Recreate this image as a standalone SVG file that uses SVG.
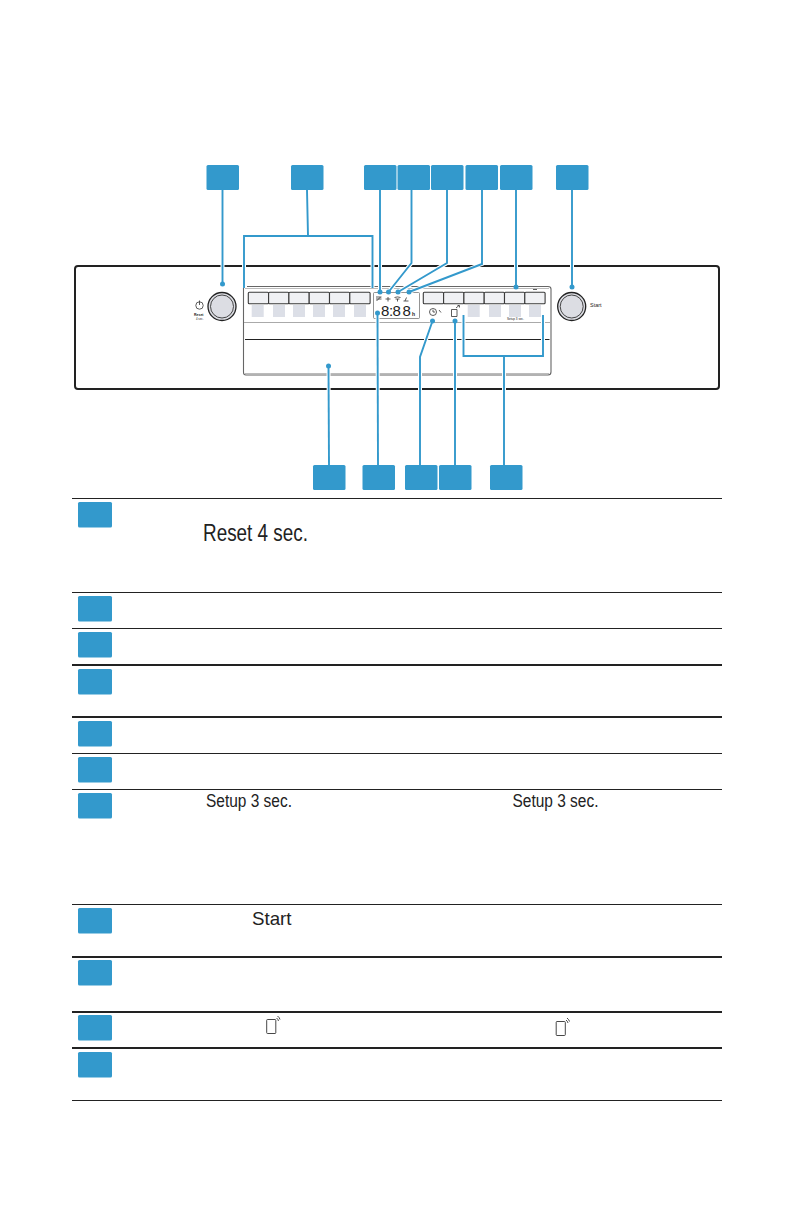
<svg xmlns="http://www.w3.org/2000/svg" xmlns:xlink="http://www.w3.org/1999/xlink" width="795" height="1226" viewBox="0 0 795 1226">
<style>
.badge{fill:#3399cc}
.conn{fill:none;stroke:#3399cc;stroke-width:1.900}
.halo{fill:none;stroke:#fff;stroke-width:4}
.dot{fill:#3399cc}
.rule{stroke:#222;stroke-width:1}
.rule2{stroke:#222;stroke-width:1.900}
.btn{fill:#f0f1f4;stroke:#3a3a3a;stroke-width:1.100}
.sq{fill:#dcdfe7}
.ic{fill:none;stroke:#333;stroke-width:.8}
.t{font-family:"Liberation Sans",Arial,sans-serif;fill:#222}
</style>
<defs>
<g id="paths">
<path d="M222.500 190V284"/>
<path d="M307 190L308 236M244 288V236H372.500V288"/>
<path d="M380 190V292"/>
<path d="M411.500 190V263L388.500 292"/>
<path d="M447 190V263L398 292"/>
<path d="M482 190V264L409 292"/>
<path d="M516 190V287"/>
<path d="M572 190V287"/>
<path d="M329 465L328.500 366"/>
<path d="M378 465L377.500 313"/>
<path d="M420 465V357L432.500 321"/>
<path d="M455 465V321"/>
<path d="M504 465V356M463.500 315V356H543V315"/>
</g>
<g id="btns">
<rect class="btn" x="0" y="0" width="20.300" height="11.500" rx="1"/>
<rect class="btn" x="20.300" y="0" width="20.300" height="11.500" rx="1"/>
<rect class="btn" x="40.600" y="0" width="20.300" height="11.500" rx="1"/>
<rect class="btn" x="60.900" y="0" width="20.300" height="11.500" rx="1"/>
<rect class="btn" x="81.200" y="0" width="20.300" height="11.500" rx="1"/>
<rect class="btn" x="101.500" y="0" width="20.300" height="11.500" rx="1"/>
</g>
<g id="knob">
<circle r="14" fill="#dcdde3" stroke="#222" stroke-width="1.300"/>
<circle r="11.500" fill="none" stroke="#333" stroke-width=".9"/>
</g>
<path id="phone" d="M0 0h7.500a.8.8 0 0 1 .8.800v12.400a.8.800 0 0 1-.8.800h-7.500a.8.800 0 0 1-.8-.800v-12.400a.8.800 0 0 1 .8-.800zM9 -1.500q1.500 1 2 3M10 -3.500q2 1.500 2.500 3.500" fill="none" stroke="#333" stroke-width=".9"/>
</defs>

<g id="panel">
<rect x="75" y="266" width="644" height="123" rx="3" fill="#fff" stroke="#222" stroke-width="2"/>
<path d="M243.500 288V372.500Q243.500 375 246 375H548Q551 375 551 372V289Q551 286.500 548 286.500H247" fill="none" stroke="#666" stroke-width="1.100"/>
<path d="M245 288.500H549" stroke="#bbb" stroke-width="1" fill="none"/>
<path d="M245 373.500H549" stroke="#bbb" stroke-width="1" fill="none"/>
<path d="M244 322.500H550" stroke="#aaa" stroke-width="1" fill="none"/>
<path d="M245 339.500H549.500" stroke="#222" stroke-width="1" fill="none"/>
<use href="#btns" x="248.300" y="292.300"/>
<use href="#btns" x="423.300" y="292.300"/>
<g class="sq">
<rect x="251.700" y="305" width="12" height="12"/><rect x="273" y="305" width="12" height="12"/><rect x="293" y="305" width="12" height="12"/><rect x="313" y="305" width="12" height="12"/><rect x="333" y="305" width="12" height="12"/><rect x="354" y="305" width="12" height="12"/>
<rect x="467.700" y="305" width="12" height="12"/><rect x="489" y="305" width="12" height="12"/><rect x="509" y="305" width="12" height="12"/><rect x="529" y="305" width="12" height="12"/>
</g>
<rect x="373.500" y="292.500" width="46" height="26" rx="1" fill="#fff" stroke="#666" stroke-width=".7"/>
<text class="t" font-size="15" x="381 389 392.500 402.500" y="316">8:88</text>
<text class="t" font-size="5" font-weight="bold" x="412" y="316">h</text>
<path class="ic" d="M376 297h5.500M376 299h5.500M376.500 301l4-4M385.500 299h5M388 297v4.500M394.500 297.500q3-1.200 6 0M395.500 299h4M397.500 299v2.500M403.500 301h5M406.500 297.500l-1.500 3.500"/>
<circle class="ic" cx="433" cy="312" r="3.500"/><path class="ic" d="M433 309.800V312H435M439 310l2 2.500"/>
<path class="ic" d="M451.500 309.500h5.500v7h-5.500zM456 308l3-2.500M457.500 305.500h2v2"/>
<path class="ic" d="M533 289.500h4"/>
<text class="t" font-size="3.400" x="507" y="320" textLength="17" lengthAdjust="spacingAndGlyphs">Setup 3 sec.</text>
</g>

<g id="knob-reset">
<use href="#knob" x="222" y="306.500"/>
<circle class="ic" cx="199.500" cy="305.500" r="3.700"/><path class="ic" d="M199.500 300.500V305"/>
<text class="t" font-size="3.800" font-weight="bold" x="194" y="316" textLength="9.500" lengthAdjust="spacingAndGlyphs">Reset</text>
<text class="t" font-size="3" x="196" y="320" textLength="7.500" lengthAdjust="spacingAndGlyphs">4 sec.</text>
</g>
<g id="knob-start">
<use href="#knob" x="571.700" y="306.500"/>
<text class="t" font-size="5.200" x="590" y="307" textLength="11.500" lengthAdjust="spacingAndGlyphs">Start</text>
</g>

<g id="connectors">
<use href="#paths" class="halo"/>
<use href="#paths" class="conn"/>
<g class="dot">
<circle cx="222.500" cy="284" r="2.500"/><circle cx="380" cy="292" r="2.500"/><circle cx="388.500" cy="292" r="2.500"/><circle cx="398" cy="292" r="2.500"/><circle cx="409" cy="292" r="2.500"/><circle cx="516" cy="287" r="2.500"/><circle cx="572" cy="287" r="2.500"/><circle cx="328.500" cy="366" r="2.500"/><circle cx="377.500" cy="313" r="2.500"/><circle cx="432.500" cy="321" r="2.500"/><circle cx="455" cy="321" r="2.500"/>
</g>
</g>

<g id="top-badges" class="badge">
<rect id="t1" x="206.500" y="165" width="32.500" height="25" rx="1.500"/>
<rect id="t2" x="291" y="165" width="32.500" height="25" rx="1.500"/>
<rect id="t3" x="364" y="165" width="32.500" height="25" rx="1.500"/>
<rect id="t4" x="397.500" y="165" width="32.500" height="25" rx="1.500"/>
<rect id="t5" x="431" y="165" width="32.500" height="25" rx="1.500"/>
<rect id="t6" x="465.500" y="165" width="32.500" height="25" rx="1.500"/>
<rect id="t7" x="500" y="165" width="32.500" height="25" rx="1.500"/>
<rect id="t8" x="556" y="165" width="32.500" height="25" rx="1.500"/>
</g>
<g id="bottom-badges" class="badge">
<rect id="b1" x="313" y="465" width="32.500" height="25" rx="1.500"/>
<rect id="b2" x="362.500" y="465" width="32.500" height="25" rx="1.500"/>
<rect id="b3" x="405" y="465" width="32.500" height="25" rx="1.500"/>
<rect id="b4" x="439" y="465" width="32.500" height="25" rx="1.500"/>
<rect id="b5" x="490" y="465" width="32.500" height="25" rx="1.500"/>
</g>

<g id="table">
<path class="rule" d="M72 498.500H722M72 592.500H722M72 628.500H722M72 753.500H722M72 789.500H722M72 904.500H722M72 1100.500H722"/>
<path class="rule2" d="M72 665H722M72 717H722M72 957H722M72 1012H722M72 1048H722"/>
<g class="badge">
<rect x="78" y="502" width="34" height="25.500" rx="1.500"/>
<rect x="78" y="596" width="34" height="25.500" rx="1.500"/>
<rect x="78" y="632" width="34" height="25.500" rx="1.500"/>
<rect x="78" y="669" width="34" height="25.500" rx="1.500"/>
<rect x="78" y="721" width="34" height="25.500" rx="1.500"/>
<rect x="78" y="757" width="34" height="25.500" rx="1.500"/>
<rect x="78" y="793" width="34" height="25.500" rx="1.500"/>
<rect x="78" y="908" width="34" height="25.500" rx="1.500"/>
<rect x="78" y="960" width="34" height="25.500" rx="1.500"/>
<rect x="78" y="1015" width="34" height="25.500" rx="1.500"/>
<rect x="78" y="1052" width="34" height="25.500" rx="1.500"/>
</g>
<text class="t" font-size="23" x="203" y="540.500" textLength="105" lengthAdjust="spacingAndGlyphs">Reset 4 sec.</text>
<text class="t" font-size="18" x="206" y="807" textLength="86" lengthAdjust="spacingAndGlyphs">Setup 3 sec.</text>
<text class="t" font-size="18" x="512.500" y="807" textLength="86" lengthAdjust="spacingAndGlyphs">Setup 3 sec.</text>
<text class="t" font-size="19" x="252" y="925" textLength="39.500" lengthAdjust="spacingAndGlyphs">Start</text>
<use href="#phone" x="267.500" y="1019.500"/>
<use href="#phone" x="557" y="1021.500"/>
</g>
</svg>
